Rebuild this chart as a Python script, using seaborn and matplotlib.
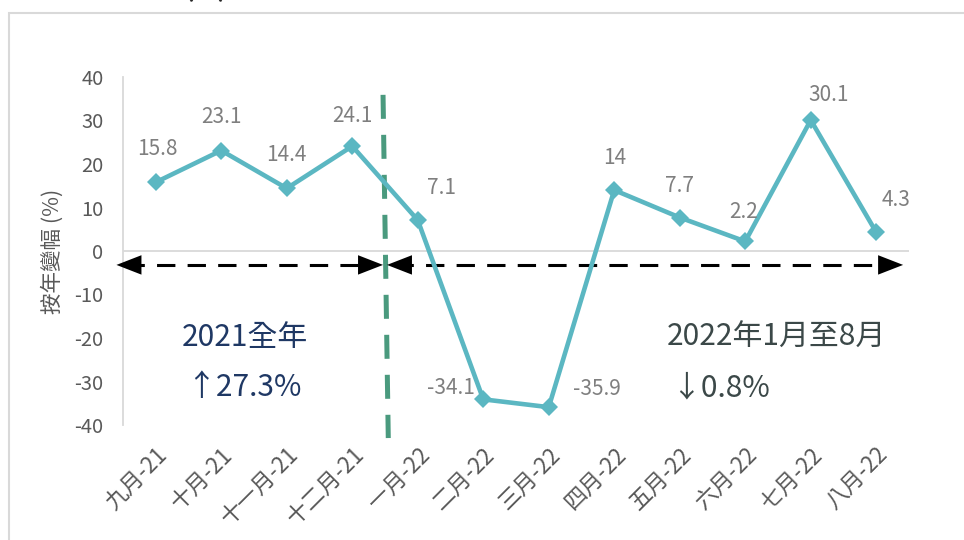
import numpy as np
import pandas as pd
import matplotlib
matplotlib.use("Agg")
import matplotlib.pyplot as plt
import seaborn as sns
from matplotlib.patches import Rectangle

# Data
months = ["九月-21", "十月-21", "十一月-21", "十二月-21", "一月-22", "二月-22",
          "三月-22", "四月-22", "五月-22", "六月-22", "七月-22", "八月-22"]
yoy_change = [15.8, 23.1, 14.4, 24.1, 7.1, -34.1, -35.9, 14, 7.7, 2.2, 30.1, 4.3]
value_labels = ["15.8", "23.1", "14.4", "24.1", "7.1", "-34.1", "-35.9",
                "14", "7.7", "2.2", "30.1", "4.3"]
y_ticks = [40, 30, 20, 10, 0, -10, -20, -30, -40]

df = pd.DataFrame({"pos": range(len(months)), "month": months, "yoy": yoy_change})

sns.set_style("white")
plt.rcParams["font.family"] = ["Noto Sans CJK TC", "DejaVu Sans"]

LINE = "#5BB7C2"
GREEN = "#4A9A7E"
GRAY_TXT = "#7F7F7F"
TICK_TXT = "#595959"

fig = plt.figure(figsize=(9.64, 5.4), dpi=100)
ax = fig.add_axes([123 / 964, 1 - 425 / 540, (909 - 123) / 964, (425 - 77) / 540])

# outer chart border (cut off at right / bottom)
fig.patches.append(Rectangle((9 / 964, -0.1), 1.2, 0.976 + 0.1, transform=fig.transFigure,
                             fill=False, edgecolor="#D9D9D9", lw=1.5, zorder=0))
# remains of a title cut off at the top
fig.text(185 / 964, 1 + 3 / 540, "(%)", fontsize=18, fontweight="bold",
         color="#262626", va="baseline", ha="left")

ax.axhline(0, color="#D9D9D9", lw=1.3, zorder=1)

sns.lineplot(data=df, x="pos", y="yoy", ax=ax, sort=False, color=LINE, lw=3.3,
             marker="D", markersize=9.5, markeredgewidth=0, zorder=4)

# data labels (offsets in points)
offsets = [(1, 24), (0, 24), (0, 24), (0, 22), (17, 23), (-23, 8), (35, 13),
           (0, 23), (0, 23), (-1, 21), (13, 18), (14, 23)]
for i, (v, lab) in enumerate(zip(yoy_change, value_labels)):
    ax.annotate(lab, (i, v), xytext=offsets[i], textcoords="offset points",
                ha="center", va="center", fontsize=15, color=GRAY_TXT, zorder=5)

# vertical split line between 2021 and 2022
ax.plot([3.47, 3.55], [35.9, -43.0], color=GREEN, lw=3.6, dashes=(4.8, 3.2),
        clip_on=False, zorder=3)

# dashed double arrows
arrow_y = -3.2
ax.plot([-0.45, 3.35], [arrow_y, arrow_y], color="black", lw=2.2, dashes=(6, 4),
        clip_on=False, zorder=3, solid_capstyle="butt")
ax.plot([3.65, 11.25], [arrow_y, arrow_y], color="black", lw=2.2, dashes=(6, 4),
        clip_on=False, zorder=3)
head = dict(arrowstyle="-|>,head_length=0.9,head_width=0.35", color="black",
            lw=0, shrinkA=0, shrinkB=0, mutation_scale=20)
for tip, back in [(-0.6, -0.2), (3.47, 3.1), (3.53, 3.9), (11.41, 11.0)]:
    ax.annotate("", xy=(tip, arrow_y), xytext=(back, arrow_y),
                arrowprops=head, annotation_clip=False, zorder=4)

# period summary text
fig.text(182 / 964, 1 - 337 / 540, "2021全年", fontsize=21.5, color="#1F3864",
         ha="left", va="center", fontweight="medium")
fig.text(186 / 964, 1 - 388 / 540, "↑27.3%", fontsize=21.5, color="#1F3864",
         ha="left", va="center", fontweight="medium")
fig.text(667 / 964, 1 - 337 / 540, "2022年1月至8月", fontsize=21.5, color="#3B4848",
         ha="left", va="center", fontweight="medium")
fig.text(671 / 964, 1 - 388 / 540, "↓0.8%", fontsize=21.5, color="#3B4848",
         ha="left", va="center", fontweight="medium")

ax.set_xlim(-0.5, 11.5)
ax.set_ylim(-40, 40)
ax.set_yticks(y_ticks)
ax.set_yticklabels([str(t) for t in y_ticks], fontsize=14.5, color=TICK_TXT)
ax.set_xticks(range(len(months)))
ax.set_xticklabels(months, rotation=45, ha="right", rotation_mode="anchor",
                   fontsize=16, color=TICK_TXT)
ax.tick_params(axis="y", length=0, pad=14)
ax.tick_params(axis="x", length=0, pad=13)
ax.set_xlabel("")
ax.set_ylabel("按年變幅 (%)", fontsize=15.5, color=TICK_TXT, labelpad=8)

for side in ["top", "right", "bottom"]:
    ax.spines[side].set_visible(False)
ax.spines["left"].set_color("#D9D9D9")
ax.spines["left"].set_linewidth(1.3)

fig.savefig("out.png", dpi=100)
